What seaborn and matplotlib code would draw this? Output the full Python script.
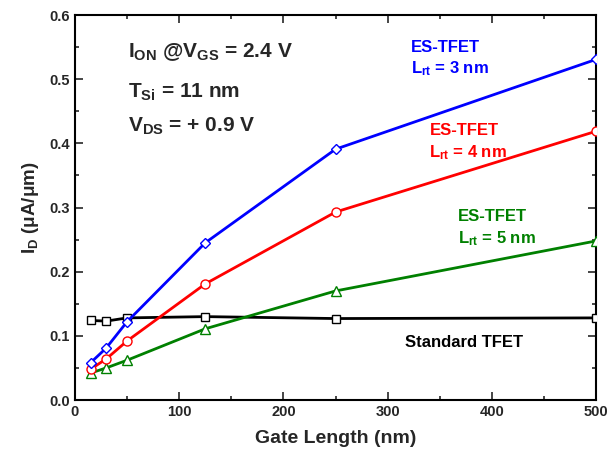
import matplotlib
matplotlib.use("Agg")
import matplotlib.pyplot as plt
import seaborn as sns
import pandas as pd
from matplotlib.ticker import MultipleLocator

gate_length = [15, 30, 50, 125, 250, 500]
es_lrt3 = [0.058, 0.081, 0.122, 0.245, 0.391, 0.531]
es_lrt4 = [0.048, 0.064, 0.092, 0.181, 0.293, 0.419]
es_lrt5 = [0.042, 0.050, 0.062, 0.111, 0.170, 0.248]
standard = [0.124, 0.123, 0.128, 0.130, 0.127, 0.128]

sns.set_theme(style="ticks")
plt.rcParams['font.family'] = ['Liberation Sans', 'DejaVu Sans']
plt.rcParams['font.weight'] = 'bold'
plt.rcParams['mathtext.fontset'] = 'custom'
plt.rcParams['mathtext.rm'] = 'Liberation Sans:bold'
plt.rcParams['mathtext.it'] = 'Liberation Sans:bold'
plt.rcParams['mathtext.bf'] = 'Liberation Sans:bold'
plt.rcParams['mathtext.default'] = 'rm'

fig = plt.figure(figsize=(6.09, 4.66), dpi=100)
ax = fig.add_axes([0.123, 0.1416, 0.856, 0.826])

series = [
    ("Standard TFET", standard, "black", "s", 6.0),
    ("Lrt5", es_lrt5, "#008000", "^", 6.5),
    ("Lrt4", es_lrt4, "red", "o", 6.5),
    ("Lrt3", es_lrt3, "blue", "D", 5.5),
]
for name, vals, col, mk, ms in series:
    df = pd.DataFrame({"x": gate_length, "y": vals})
    sns.lineplot(data=df, x="x", y="y", ax=ax, color=col, lw=2.0,
                 marker=mk, markersize=ms,
                 markerfacecolor="white", markeredgecolor=col,
                 markeredgewidth=1.0, zorder=3)

ax.set_xlim(0, 500)
ax.set_ylim(0, 0.6)
ax.xaxis.set_major_locator(MultipleLocator(100))
ax.xaxis.set_minor_locator(MultipleLocator(50))
ax.yaxis.set_major_locator(MultipleLocator(0.1))
ax.yaxis.set_minor_locator(MultipleLocator(0.05))
ax.tick_params(which='both', direction='in', top=True, right=True, labelsize=10.5, width=1.2)
ax.tick_params(which='major', length=5.5)
ax.tick_params(which='minor', length=3)
for lab in ax.get_xticklabels() + ax.get_yticklabels():
    lab.set_fontweight('bold')
for s in ax.spines.values():
    s.set_linewidth(1.5)
    s.set_color('black')

ax.set_xlabel("Gate Length (nm)", fontsize=14, fontweight='bold', labelpad=8)
ax.set_ylabel(r"I$_\mathrm{D}$ ($\mu$A/$\mu$m)", fontsize=13.5, fontweight='bold', labelpad=6)

ax.text(51, 0.535, r"I$_\mathrm{ON}$ @V$_\mathrm{GS}$ = 2.4 V", fontsize=15, fontweight='bold', va='baseline')
ax.text(51, 0.472, r"T$_\mathrm{Si}$ = 11 nm", fontsize=15, fontweight='bold', va='baseline')
ax.text(51, 0.419, r"V$_\mathrm{DS}$ = + 0.9 V", fontsize=15, fontweight='bold', va='baseline')

ax.text(322, 0.542, "ES-TFET", color='blue', fontsize=12, fontweight='bold', va='baseline')
ax.text(322, 0.510, r"L$_\mathrm{rt}$ = 3 nm", color='blue', fontsize=12, fontweight='bold', va='baseline')
ax.text(340, 0.413, "ES-TFET", color='red', fontsize=12, fontweight='bold', va='baseline')
ax.text(340, 0.379, r"L$_\mathrm{rt}$ = 4 nm", color='red', fontsize=12, fontweight='bold', va='baseline')
ax.text(367, 0.279, "ES-TFET", color='#008000', fontsize=12, fontweight='bold', va='baseline')
ax.text(367, 0.245, r"L$_\mathrm{rt}$ = 5 nm", color='#008000', fontsize=12, fontweight='bold', va='baseline')
ax.text(317, 0.083, "Standard TFET", color='black', fontsize=12, fontweight='bold', va='baseline')

fig.savefig("out.png", dpi=100)
